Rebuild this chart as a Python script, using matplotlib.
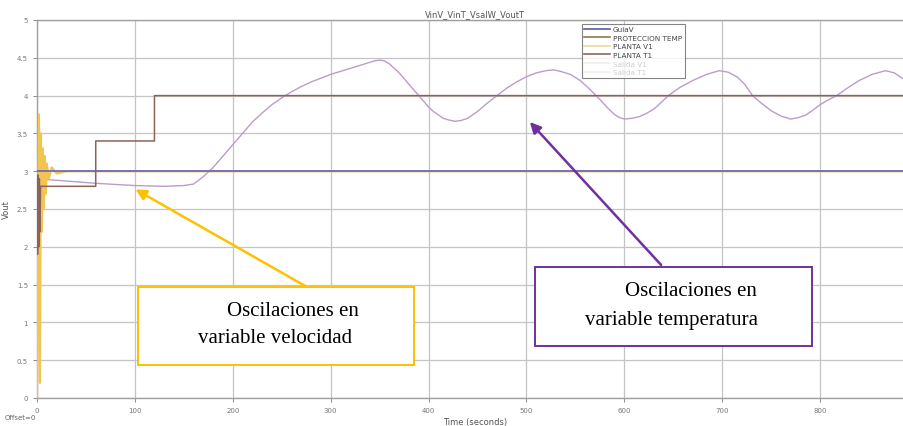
import numpy as np
import matplotlib.pyplot as plt
from matplotlib.patches import Rectangle, FancyArrowPatch
from matplotlib.lines import Line2D

# ---- data ----
t_guia = [0, 885]
v_guia = [3.0, 3.0]

t_prot = [0, 0.6, 1.2, 1.8, 2.4, 3.0, 3.6, 60, 60, 120, 120, 885]
v_prot = [2.8, 1.9, 2.95, 2.0, 2.9, 2.2, 2.8, 2.8, 3.4, 3.4, 4.0, 4.0]

t_vel = [0, 2, 3, 4, 5, 6, 7, 8, 9, 10, 12, 15, 20, 30, 885]
v_vel = [0, 3.75, 0.2, 3.5, 2.2, 3.3, 2.5, 3.2, 2.7, 3.1, 2.9, 3.05, 2.97, 3.0, 3.0]

t_temp = [0, 30, 60, 100, 130, 150, 160, 170, 180, 190, 200, 210, 220, 230, 240,
          250, 260, 270, 280, 290, 300, 310, 320, 330, 340, 345, 350, 355, 360,
          365, 370, 380, 390, 400, 405, 415, 420, 427, 433, 440, 450, 460, 470,
          480, 490, 500, 510, 520, 528, 535, 545, 555, 565, 575, 582, 590, 595,
          600, 608, 615, 622, 630, 637, 645, 657, 670, 684, 697, 706, 715, 723,
          731, 740, 750, 760, 770, 778, 785, 792, 800, 808, 817, 828, 840, 853,
          867, 876, 885]
v_temp = [2.90, 2.87, 2.84, 2.81, 2.80, 2.81, 2.83, 2.93, 3.05, 3.20, 3.35, 3.50,
          3.65, 3.77, 3.88, 3.97, 4.05, 4.12, 4.18, 4.23, 4.28, 4.32, 4.36, 4.40,
          4.44, 4.46, 4.47, 4.46, 4.42, 4.36, 4.30, 4.15, 4.00, 3.85, 3.79, 3.70,
          3.68, 3.66, 3.67, 3.70, 3.79, 3.90, 4.00, 4.10, 4.18, 4.25, 4.30, 4.33,
          4.34, 4.32, 4.28, 4.20, 4.08, 3.95, 3.85, 3.75, 3.71, 3.69, 3.70, 3.72,
          3.76, 3.82, 3.90, 4.00, 4.11, 4.20, 4.28, 4.33, 4.31, 4.25, 4.15, 4.00,
          3.90, 3.80, 3.73, 3.69, 3.71, 3.74, 3.80, 3.88, 3.94, 4.00, 4.10, 4.20,
          4.28, 4.33, 4.30, 4.22]

legend_labels = ["GuiaV", "PROTECCION TEMP", "PLANTA V1", "PLANTA T1", "Salida V1", "Salida T1"]
xticks = [0, 100, 200, 300, 400, 500, 600, 700, 800]
yticks = [0, 0.5, 1, 1.5, 2, 2.5, 3, 3.5, 4, 4.5, 5]

W, H = 904, 427
fig = plt.figure(figsize=(W / 100, H / 100), dpi=100)
ax = fig.add_axes([37 / W, 1 - 399 / H, (W - 37) / W + 0.01, (399 - 21) / H])

ax.plot(t_temp, v_temp, color="#bb9ccb", lw=1.0, zorder=3)
ax.plot(t_vel, v_vel, color="#f2c450", lw=1.6, zorder=3)
ax.plot(t_guia, v_guia, color="#6464c8", lw=1.2, zorder=4)
ax.plot(t_prot, v_prot, color="#8a6458", lw=1.1, zorder=4)

ax.set_xlim(0, 895)
ax.set_ylim(0, 5)
ax.set_xticks(xticks)
ax.set_yticks(yticks)
ax.set_yticklabels([f"{v:g}" for v in yticks])
ax.grid(True, color="#c4c4c4", lw=0.9)
ax.tick_params(labelsize=5, colors="#777777", length=3, width=0.6)
for s in ax.spines.values():
    s.set_color("#a0a0a0")
    s.set_linewidth(1.0)

ax.set_title("VinV_VinT_VsalW_VoutT", fontsize=6, color="#555555", pad=3)
ax.set_xlabel("Time (seconds)", fontsize=6, color="#555555", labelpad=3)
ax.set_ylabel("Vout", fontsize=6, color="#555555", labelpad=4)
fig.text(5 / W, 1 - 418 / H, "Offset=0", fontsize=5, color="#666666", va="center")

handles = [Line2D([], [], color=c, lw=1.2) for c in
           ["#5a5aa8", "#8a7a50", "#e8d8a0", "#8a6a60", "#eeeeee", "#eeeeee"]]
leg = ax.legend(handles, legend_labels, loc="upper left",
                bbox_to_anchor=(578 / W, 1 - 21 / H), bbox_transform=fig.transFigure,
                fontsize=5.2, frameon=True, fancybox=False, handlelength=3.6,
                handletextpad=0.4, borderpad=0.35, labelspacing=0.35)
leg.get_frame().set_edgecolor("#666666")
leg.get_frame().set_linewidth(0.8)
for i, txt in enumerate(leg.get_texts()):
    txt.set_color("#444444" if i < 4 else "#cccccc")

# ---- callouts ----
def px(x, y):
    return (x / W, 1 - y / H)

def callout(x0, y0, x1, y1, color, lines, tail, tip):
    fx0, fy1 = px(x0, y1)
    fx1, fy0 = px(x1, y0)
    fig.patches.append(Rectangle((fx0, fy1), fx1 - fx0, fy0 - fy1, transform=fig.transFigure,
                                 facecolor="white", edgecolor=color, lw=1.4, zorder=10))
    arr = FancyArrowPatch(px(*tail), px(*tip), transform=fig.transFigure,
                          arrowstyle="-|>", mutation_scale=16, color=color, lw=1.8, zorder=11)
    fig.patches.append(arr)
    for (tx, ty, s) in lines:
        fig.text(*px(tx, ty), s, fontsize=15, family="Liberation Serif",
                 va="center", ha="left", zorder=12)

callout(138, 288, 414, 366, "#ffc000",
        [(227, 312, "Oscilaciones en"), (198, 339, "variable velocidad")],
        (307, 288), (133, 189))
callout(535, 268, 812, 347, "#7030a0",
        [(625, 292, "Oscilaciones en"), (585, 321, "variable temperatura")],
        (663, 268), (528, 121))

fig.savefig("out.png", dpi=100)
